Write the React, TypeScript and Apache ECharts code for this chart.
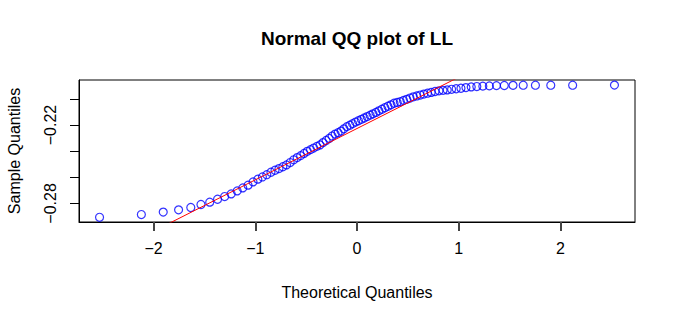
import React, { useEffect, useRef } from "react";
import * as echarts from "echarts";

// Theoretical quantiles (normal scores for n = 88)
const theoretical: number[] = [
  -2.531, -2.120, -1.905, -1.754, -1.634, -1.534, -1.448, -1.371, -1.301, -1.237,
  -1.178, -1.123, -1.071, -1.022, -0.975, -0.930, -0.887, -0.846, -0.806, -0.767,
  -0.729, -0.693, -0.657, -0.622, -0.588, -0.554, -0.521, -0.489, -0.457, -0.426,
  -0.395, -0.364, -0.334, -0.304, -0.274, -0.245, -0.215, -0.186, -0.157, -0.129,
  -0.100, -0.071, -0.043, -0.014,
  0.014, 0.043, 0.071, 0.100, 0.129, 0.157, 0.186, 0.215, 0.245, 0.274,
  0.304, 0.334, 0.364, 0.395, 0.426, 0.457, 0.489, 0.521, 0.554, 0.588,
  0.622, 0.657, 0.693, 0.729, 0.767, 0.806, 0.846, 0.887, 0.930, 0.975,
  1.022, 1.071, 1.123, 1.178, 1.237, 1.301, 1.371, 1.448, 1.534, 1.634,
  1.754, 1.905, 2.120, 2.531,
];

// Sample quantiles (sorted LL values)
const sample: number[] = [
  -0.2906, -0.2885, -0.2866, -0.2849, -0.2831, -0.2808, -0.2790, -0.2768, -0.2747, -0.2727,
  -0.2704, -0.2681, -0.2660, -0.2635, -0.2614, -0.2597, -0.2580, -0.2561, -0.2546, -0.2533,
  -0.2519, -0.2505, -0.2487, -0.2466, -0.2449, -0.2434, -0.2417, -0.2401, -0.2388, -0.2376,
  -0.2363, -0.2352, -0.2334, -0.2318, -0.2302, -0.2284, -0.2269, -0.2258, -0.2246, -0.2229,
  -0.2212, -0.2201, -0.2189, -0.2177, -0.2167, -0.2156, -0.2146, -0.2135, -0.2124, -0.2114,
  -0.2103, -0.2091, -0.2079, -0.2067, -0.2056, -0.2045, -0.2033, -0.2027, -0.2021, -0.2011,
  -0.2003, -0.1993, -0.1984, -0.1977, -0.1970, -0.1963, -0.1956, -0.1950, -0.1943, -0.1938,
  -0.1934, -0.1931, -0.1926, -0.1922, -0.1918, -0.1913, -0.1908, -0.1905, -0.1902, -0.1900,
  -0.1898, -0.1897, -0.1896, -0.1895, -0.1895, -0.1895, -0.1895, -0.1894,
];

const xTicks: number[] = [-2, -1, 0, 1, 2];
const yTicks: number[] = [-0.28, -0.26, -0.24, -0.22, -0.2];
const yLabels: number[] = [-0.28, -0.22];

const X_MIN = -2.733;
const X_MAX = 2.733;
const Y_MIN = -0.2942;
const Y_MAX = -0.1855;

const FONT = "'Liberation Sans', Arial, Helvetica, sans-serif";

function quantile7(sorted: number[], p: number): number {
  const h = (sorted.length - 1) * p;
  const lo = Math.floor(h);
  const hi = Math.min(lo + 1, sorted.length - 1);
  return sorted[lo] + (h - lo) * (sorted[hi] - sorted[lo]);
}

const fmt = (v: number) => {
  const s = Math.abs(v) < 1e-9 ? "0" : String(Math.round(v * 100) / 100);
  return s.replace("-", "\u2212");
};

export default function App() {
  const ref = useRef<HTMLDivElement>(null);

  useEffect(() => {
    if (!ref.current) return;
    const chart = echarts.init(ref.current, undefined, { renderer: "svg" });

    // qqline: through the first and third quartiles
    const y1 = quantile7(sample, 0.25);
    const y3 = quantile7(sample, 0.75);
    const x1 = -0.6745;
    const x3 = 0.6745;
    const slope = (y3 - y1) / (x3 - x1);
    const intercept = y1 - slope * x1;
    const lineData = [
      [X_MIN, intercept + slope * X_MIN],
      [X_MAX, intercept + slope * X_MAX],
    ];

    const points = theoretical.map((x, i) => [x, sample[i]]);

    chart.setOption({
      animation: false,
      backgroundColor: "#ffffff",
      title: {
        text: "Normal QQ plot of LL",
        left: 352,
        top: 24,
        textAlign: "center",
        textStyle: { fontFamily: FONT, fontSize: 19, fontWeight: "bold", color: "#000" },
      },
      grid: {
        left: 79,
        right: 41,
        top: 80,
        bottom: 100,
        outerBoundsMode: "none",
        containLabel: false,
        show: true,
        borderColor: "#000",
        borderWidth: 1,
        backgroundColor: "transparent",
      },
      xAxis: {
        type: "value",
        min: X_MIN,
        max: X_MAX,
        name: "Theoretical Quantiles",
        nameLocation: "middle",
        nameGap: 62,
        nameTextStyle: { fontFamily: FONT, fontSize: 16, color: "#000" },
        axisLine: { show: true, onZero: false, lineStyle: { color: "#000", width: 1 } },
        splitLine: { show: false },
        axisTick: {
          show: true,
          length: 9,
          customValues: xTicks,
          lineStyle: { color: "#444", width: 2 },
        },
        axisLabel: {
          customValues: xTicks,
          formatter: (v: number) => fmt(v),
          margin: 18,
          fontFamily: FONT,
          fontSize: 16,
          color: "#000",
        },
      },
      yAxis: {
        type: "value",
        min: Y_MIN,
        max: Y_MAX,
        name: "Sample Quantiles",
        nameLocation: "middle",
        nameGap: 57,
        nameRotate: 90,
        nameTextStyle: { fontFamily: FONT, fontSize: 16, color: "#000" },
        axisLine: { show: true, onZero: false, lineStyle: { color: "#000", width: 1 } },
        splitLine: { show: false },
        axisTick: {
          show: true,
          length: 9,
          customValues: yTicks,
          lineStyle: { color: "#000", width: 1 },
        },
        axisLabel: {
          customValues: yLabels,
          rotate: 90,
          formatter: (v: number) => fmt(v),
          margin: 21,
          fontFamily: FONT,
          fontSize: 16,
          color: "#000",
        },
      },
      series: [
        {
          type: "scatter",
          data: points,
          symbol: "circle",
          symbolSize: 8,
          itemStyle: { color: "rgba(0,0,0,0)", borderColor: "#0000ff", borderWidth: 1.2 },
          emphasis: { disabled: true },
        },
        {
          type: "line",
          data: lineData,
          symbol: "none",
          clip: true,
          lineStyle: { color: "#ff0000", width: 1 },
          emphasis: { disabled: true },
        },
      ],
    });

    return () => chart.dispose();
  }, []);

  return (
    <div ref={ref} style={{ position: "fixed", left: 0, top: 0, width: 676, height: 322 }} />
  );
}
